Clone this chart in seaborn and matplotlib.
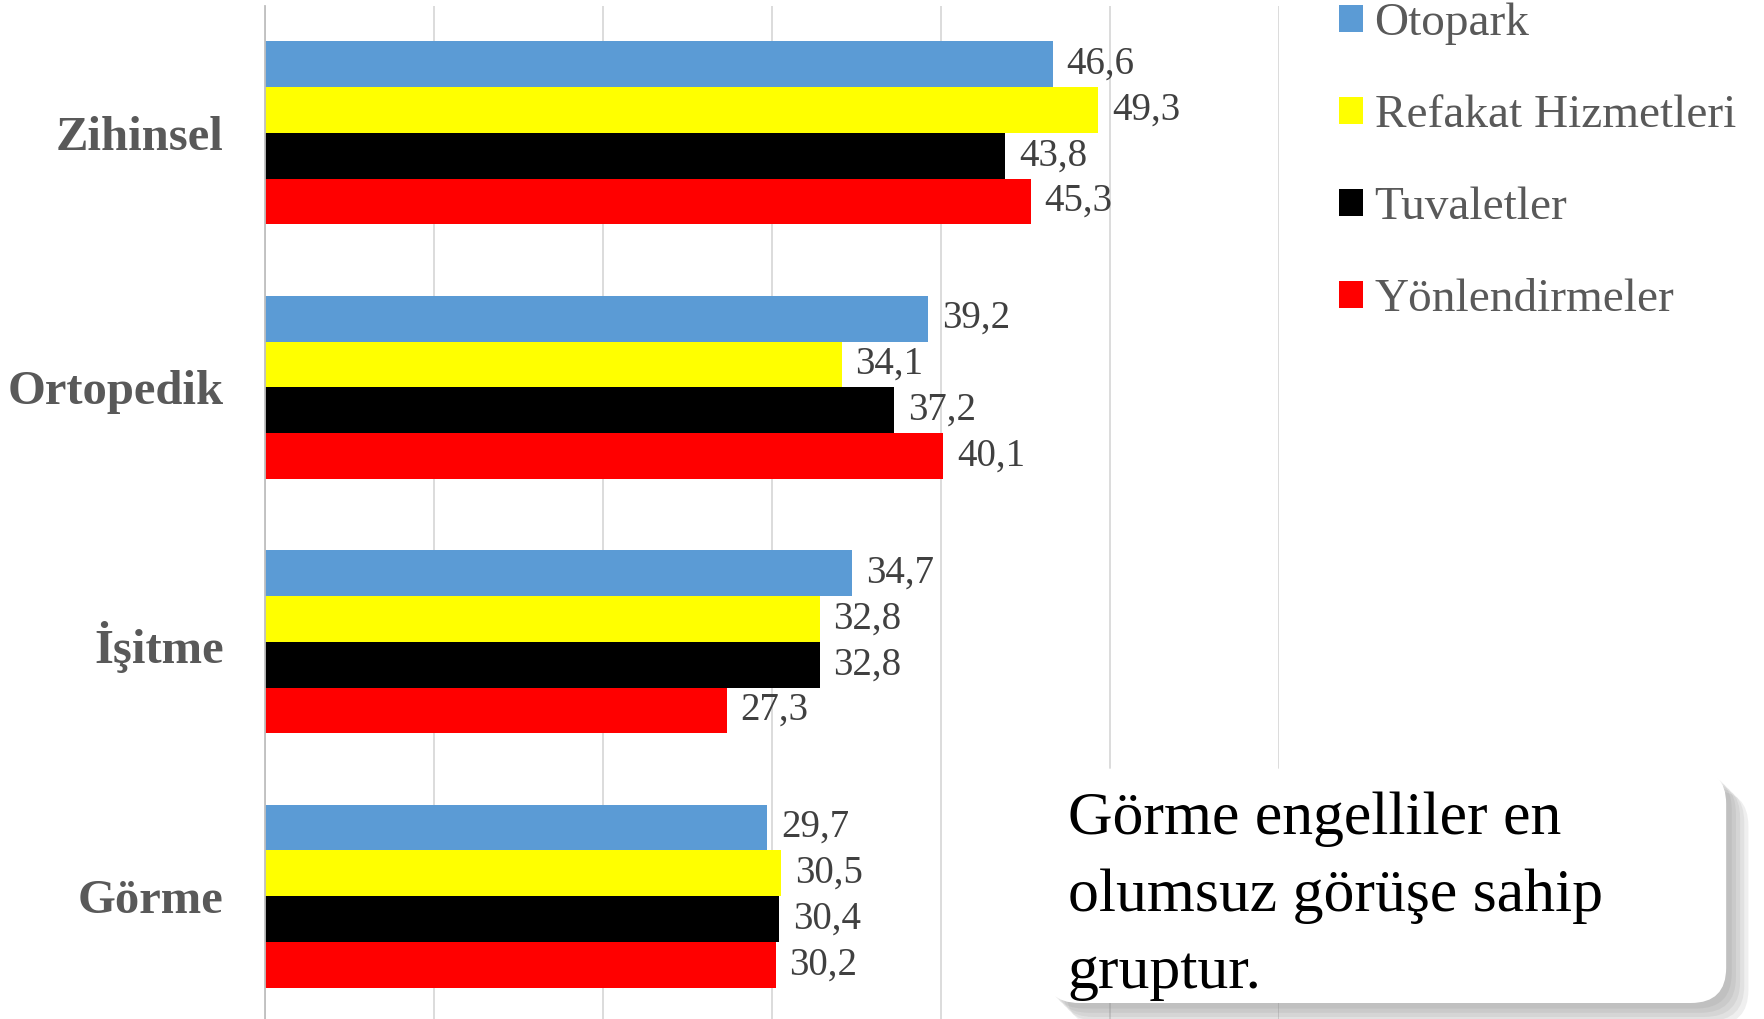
import pandas as pd
import matplotlib
matplotlib.use("Agg")
import matplotlib.pyplot as plt
import matplotlib.patheffects as pe
from matplotlib.patches import FancyBboxPatch, Patch
import seaborn as sns

# data
groups = ["Zihinsel", "Ortopedik", "İşitme", "Görme"]
series = ["Otopark", "Refakat Hizmetleri", "Tuvaletler", "Yönlendirmeler"]
otopark = [46.6, 39.2, 34.7, 29.7]
refakat = [49.3, 34.1, 32.8, 30.5]
tuvalet = [43.8, 37.2, 32.8, 30.4]
yonlendirme = [45.3, 40.1, 27.3, 30.2]
colors = ["#5B9BD5", "#FFFF00", "#000000", "#FF0000"]
x_ticks = [0, 10, 20, 30, 40, 50, 60]
note_lines = ["Görme engelliler en", "olumsuz görüşe sahip", "gruptur."]

rows = []
for name, vals in zip(series, [otopark, refakat, tuvalet, yonlendirme]):
    for g, v in zip(groups, vals):
        rows.append({"group": g, "series": name, "value": v})
df = pd.DataFrame(rows)

sns.set_style("white")
plt.rcParams["font.family"] = ["Liberation Serif", "DejaVu Serif"]

fig = plt.figure(figsize=(17.65, 10.19), dpi=100)
ax = fig.add_axes([0.1503, -0.0044, 0.5745, 0.9989])

sns.barplot(data=df, x="value", y="group", hue="series", order=groups,
            hue_order=series, palette=colors, orient="h", width=0.72,
            saturation=1, linewidth=0, legend=False, ax=ax)

for cont in ax.containers:
    ax.bar_label(cont, labels=[f"{b.get_width():.1f}".replace(".", ",") for b in cont],
                 padding=10, fontsize=28, color="#404040")

ax.set_xlim(0, 60)
ax.set_ylim(3.5, -0.5)
ax.set_xticks(x_ticks)
ax.set_xticklabels([])
ax.grid(axis="x", color="#d9d9d9", linewidth=1.3)
ax.set_axisbelow(True)
ax.set_xlabel("")
ax.set_ylabel("")
for s in ["top", "right", "bottom"]:
    ax.spines[s].set_visible(False)
ax.spines["left"].set_color("#bfbfbf")
ax.spines["left"].set_linewidth(1.3)
ax.tick_params(axis="x", length=0)
ax.set_yticks([i - 0.5 for i in range(len(groups) + 1)], minor=True)
ax.tick_params(axis="y", which="minor", length=10, color="#bfbfbf", width=1.3)
ax.tick_params(axis="y", which="major", length=0, pad=30)
for lab in ax.get_yticklabels():
    lab.set_fontsize(35)
    lab.set_fontweight("bold")
    lab.set_color("#595959")

handles = [Patch(facecolor=c, edgecolor="none") for c in colors]
fig.legend(handles, series, loc="upper left", bbox_to_anchor=(0.748, 1.016),
           frameon=False, fontsize=34, labelcolor="#595959",
           handlelength=0.5, handleheight=0.5, handletextpad=0.25,
           labelspacing=1.05, borderaxespad=0)

# soft shadow: several faint offset layers
shadow = [pe.SimplePatchShadow(offset=(o, -o), shadow_rgbFace="#7f7f7f", alpha=0.12)
          for o in (4, 7, 10, 13, 16)]
box = FancyBboxPatch((0.5915, 0.0157), 0.3865, 0.2300,
                     boxstyle="round,pad=0,rounding_size=0.02",
                     mutation_aspect=1.732, transform=fig.transFigure,
                     facecolor="white", edgecolor="none", zorder=5,
                     path_effects=shadow + [pe.Normal()])
fig.add_artist(box)
for line, yb in zip(note_lines, [0.1816, 0.1060, 0.0304]):
    fig.text(0.605, yb, line, fontsize=44.5, color="black", va="baseline",
             ha="left", zorder=6)

fig.savefig("out.png", dpi=100)
